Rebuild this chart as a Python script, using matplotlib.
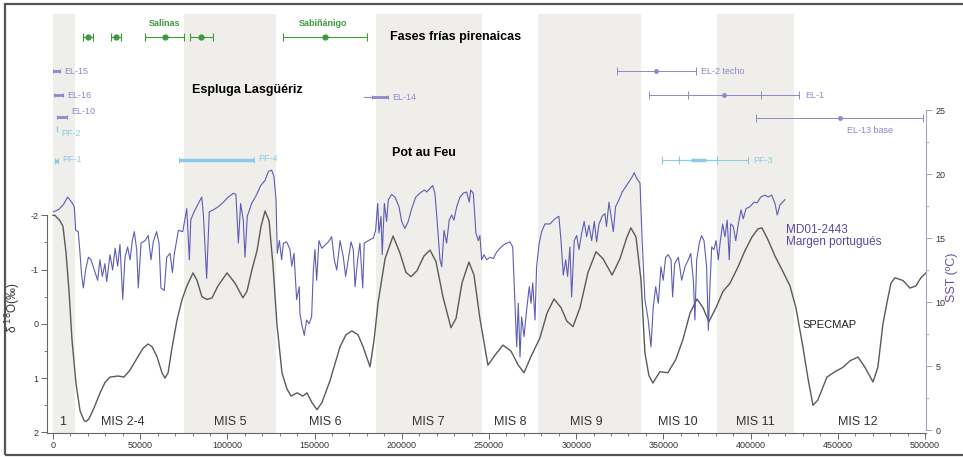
import numpy as np
import matplotlib
matplotlib.use("Agg")
import matplotlib.pyplot as plt
from matplotlib.patches import Rectangle

plt.rcParams['font.family'] = ['Liberation Sans', 'DejaVu Sans']

# SPECMAP (edad en años, d18O normalizado)
spec_age = [0, 1100, 4000, 5700, 7500, 9200, 10900, 13200, 15500, 17800, 18900, 20600, 23500,
            27000, 29800, 32700, 37300, 40700, 44200, 48200, 51600, 54500, 56800, 59600, 62500,
            64200, 66000, 68200, 71100, 74000, 76800, 80300, 82600, 85400, 88300, 91200, 94600,
            99800, 104400, 108900, 111200, 114100, 117000, 119300, 121600, 123900, 126100, 128400,
            131300, 134200, 136500, 140000, 143300, 145600, 148500, 151400, 154200, 158800, 164600,
            168000, 171400, 174900, 177800, 181800, 184100, 186400, 190400, 195000, 199000, 202400,
            205300, 208700, 212700, 216200, 219600, 223600, 228200, 231100, 234500, 238500, 241400,
            244800, 249400, 252900, 258000, 262600, 266600, 270100, 274100, 279200, 283300, 287300,
            291300, 294700, 298200, 302200, 306800, 311400, 315400, 320600, 325100, 329100, 331400,
            334300, 337200, 339400, 341700, 344000, 348000, 352600, 357200, 361200, 365300, 369300,
            372700, 376100, 380200, 384200, 388200, 392800, 396800, 400800, 404200, 406500, 410000,
            414000, 418000, 422600, 426000, 430000, 432900, 435800, 438600, 443800, 448400, 453000,
            457000, 461600, 465600, 470200, 473000, 475900, 478200, 480500, 482800, 487400, 491400,
            494800, 497700, 500600]
spec_d18o = [-2.0, -2.0, -1.9, -1.8, -1.3, -0.6, 0.3, 1.1, 1.6, 1.78, 1.8, 1.75, 1.55,
             1.27, 1.08, 0.98, 0.96, 0.98, 0.85, 0.63, 0.45, 0.37, 0.42, 0.6, 0.9,
             1.0, 0.9, 0.45, -0.07, -0.45, -0.7, -0.94, -0.8, -0.5, -0.45, -0.48, -0.7,
             -0.94, -0.75, -0.48, -0.6, -1.0, -1.35, -1.8, -2.08, -1.9, -1.1, 0.0,
             0.9, 1.2, 1.33, 1.27, 1.33, 1.27, 1.45, 1.58, 1.45, 1.05, 0.42,
             0.2, 0.13, 0.2, 0.42, 0.79, 0.3, -0.39, -1.2, -1.62, -1.3, -0.95,
             -0.87, -0.98, -1.25, -1.36, -1.15, -0.5, 0.07, -0.1, -0.75, -1.14, -0.9,
             -0.1, 0.76, 0.6, 0.39, 0.5, 0.75, 0.9, 0.6, 0.26, -0.2, -0.46,
             -0.3, -0.05, 0.05, -0.3, -0.95, -1.33, -1.2, -0.9, -1.2, -1.6, -1.77,
             -1.6, -0.8, 0.53, 0.95, 1.09, 0.88, 0.9, 0.65, 0.29, -0.2, -0.46,
             -0.3, -0.04, -0.3, -0.6, -0.75, -1.05, -1.35, -1.6, -1.75, -1.77, -1.55,
             -1.25, -1.0, -0.7, -0.3, 0.42, 1.0, 1.5, 1.4, 0.98, 0.88, 0.8,
             0.68, 0.61, 0.8, 1.07, 0.8, 0.0, -0.39, -0.75, -0.85, -0.8, -0.66,
             -0.7, -0.85, -0.94]

# MD01-2443 SST (ºC)
sst_age = [200, 3000, 5900, 8400, 10700, 12200, 13000, 14500, 15500, 16400, 17400, 18700, 20300,
           21800, 23700, 25600, 26900, 28300, 29800, 30800, 32700, 34200, 35600, 37100, 38400,
           40000, 41300, 42800, 44200, 45500, 46600, 48000, 48900, 50500, 52800, 54600, 56200,
           57500, 59400, 60800, 61900, 63800, 65200, 67100, 68500, 69500, 71900, 74400, 76700,
           78200, 79000, 80400, 82400, 85300, 86200, 88100, 89600, 91900, 94800, 97700, 100500,
           103400, 104900, 106300, 107600, 109100, 110100, 111400, 113900, 116800, 119100, 121600,
           123500, 125400, 126700, 127900, 128600, 129800, 131100, 132100, 134000, 135900, 136900,
           138200, 139700, 141200, 141600, 142900, 144100, 145400, 146800, 148300, 149300, 150200,
           151200, 152500, 154100, 156000, 157900, 159800, 161300, 162700, 164600, 166500, 167800,
           169300, 170900, 172200, 173200, 174700, 176000, 177600, 178500, 180800, 183700, 185000,
           186200, 186900, 188100, 188800, 190000, 191300, 192300, 194200, 196100, 198400, 199900,
           201800, 203700, 205700, 208000, 210400, 212900, 214300, 217700, 219000, 220400, 221900,
           222900, 224200, 225700, 227200, 228600, 229900, 231500, 233400, 235300, 237200, 238700,
           239500, 241000, 242500, 243900, 244800, 245800, 247100, 248700, 250600, 252500, 254400,
           256300, 258200, 260100, 262000, 263600, 264500, 265900, 266800, 267800, 268700, 270100,
           271600, 273100, 274100, 275100, 276400, 277300, 278800, 280200, 282100, 285000, 287800,
           290100, 291300, 292600, 294000, 295100, 296400, 297400, 298900, 300300, 301600, 303200,
           304600, 306000, 307300, 308900, 310400, 311700, 313100, 314900, 316500, 317400, 318800,
           320000, 321300, 322600, 324600, 326400, 328400, 330300, 332200, 333300, 334700, 336600,
           337900, 339400, 341300, 342900, 344200, 345600, 347100, 348600, 349900, 351300, 352800,
           354400, 355300, 356500, 358600, 360500, 362400, 364300, 365700, 367200, 368100, 369100,
           370600, 371900, 373300, 374800, 375800, 376700, 377700, 379000, 380200, 381500, 382500,
           384000, 385300, 386600, 387800, 388600, 390100, 391500, 393000, 394500, 395800, 397400,
           399700, 402000, 403800, 405800, 408300, 410100, 412100, 414000, 415300, 416900, 418400,
           419700]
sst_val = [17.05, 17.2, 17.6, 18.2, 17.8, 17.45, 15.6, 15.5, 13.8, 12.1, 11.1, 12.5, 13.5,
           13.3, 12.5, 11.7, 13.3, 12.0, 13.0, 11.6, 13.7, 12.5, 14.2, 12.8, 14.5,
           10.2, 13.5, 14.3, 13.3, 14.8, 15.5, 14.1, 11.1, 14.6, 14.8, 15.2, 13.3,
           14.7, 15.5, 14.6, 11.1, 10.9, 13.5, 13.8, 12.3, 13.7, 15.6, 15.5, 17.3,
           13.3, 16.4, 16.9, 17.45, 18.2, 16.9, 11.85, 17.05, 17.2, 17.45, 17.8, 18.2,
           18.5, 18.4, 14.6, 17.7, 16.4, 13.5, 16.7, 17.7, 18.4, 19.1, 19.5,
           20.2, 20.3, 19.8, 18.0, 13.8, 14.8, 13.3, 14.6, 14.7, 14.1, 12.8,
           13.8, 10.2, 11.2, 9.1, 8.1, 7.4, 8.6, 8.3, 8.85, 12.5, 14.1,
           11.7, 14.8, 14.2, 14.45, 14.7, 15.1, 13.3, 12.5, 14.8, 13.5, 12.0,
           13.3, 14.7, 14.1, 11.2, 13.3, 14.6, 11.1, 14.6, 14.8, 15.0, 15.6,
           17.7, 15.4, 16.7, 13.7, 17.7, 16.3, 18.0, 18.4, 18.2, 17.45, 16.3,
           15.75, 16.3, 17.3, 18.2, 18.5, 18.75, 18.6, 19.1, 18.5, 16.1, 13.3,
           12.75, 15.6, 14.6, 16.4, 16.8, 16.4, 17.45, 18.2, 18.5, 18.6, 17.8,
           18.75, 18.5, 15.4, 14.8, 15.2, 13.3, 13.7, 13.3, 13.5, 13.4, 13.9,
           14.2, 14.45, 14.6, 14.7, 14.3, 11.2, 6.5, 9.9, 5.7, 8.85, 7.3,
           9.4, 11.2, 9.9, 11.5, 8.6, 12.75, 14.6, 15.5, 16.1, 16.1, 16.5,
           16.7, 14.8, 12.1, 13.3, 12.0, 14.3, 10.4, 14.8, 15.2, 14.1, 15.4,
           16.3, 15.1, 16.0, 14.8, 16.3, 14.7, 16.1, 16.7, 16.9, 15.9, 17.8,
           16.7, 15.5, 17.45, 18.0, 18.6, 19.0, 19.4, 19.8, 20.1, 19.65, 19.3,
           14.6, 10.2, 8.6, 6.5, 9.6, 11.2, 9.9, 12.75, 11.7, 13.5, 13.7,
           13.3, 10.4, 13.0, 13.5, 11.7, 12.75, 13.3, 13.8, 11.7, 8.6, 13.3,
           14.6, 15.2, 14.8, 12.75, 7.8, 11.2, 14.3, 14.1, 14.8, 13.3, 14.6,
           16.1, 15.1, 16.4, 13.3, 16.1, 15.9, 14.8, 16.1, 17.2, 16.5, 17.3,
           17.45, 17.8, 17.75, 18.2, 18.35, 18.2, 18.35, 17.7, 16.8, 17.6, 17.8,
           18.0]

# Estadios isotópicos marinos
mis_labels = ['1', 'MIS 2-4', 'MIS 5', 'MIS 6', 'MIS 7', 'MIS 8', 'MIS 9', 'MIS 10', 'MIS 11', 'MIS 12']
mis_label_age = [5700, 40000, 101500, 156000, 215000, 262000, 306000, 358000, 402500, 461600]
warm_start = [0, 75000, 185000, 278000, 381000]
warm_end = [12600, 128000, 246000, 337000, 425000]

# Fases frías pirenaicas (edad, error)
fria_age = [20000, 36000, 64000, 85000, 156000]
fria_err = [3000, 3000, 11000, 6500, 24000]

# Dataciones Espluga Lasgüériz
el_names = ['EL-15', 'EL-16', 'EL-10', 'EL-14']
el_age = [2000, 3200, 5200, 187500]
el_err = [1800, 2600, 2900, 4500]
el_dot_names = ['EL-2 techo', 'EL-1', 'EL-13 base']
el_dot_age = [346000, 385000, 451000]
el_dot_err = [22500, 21000, 48000]
el_dot_err2 = [22500, 43000, 48000]

# Dataciones Pot au Feu
pf_names = ['PF-2', 'PF-1', 'PF-4', 'PF-3']
pf_age = [2300, 2000, 94000, 370000]
pf_err = [0, 1000, 21500, 4200]
pf3_err_lo, pf3_err_hi, pf3_mid = 21000, 28500, 11000

# filas (px desde arriba)
row_fria = 37
el_rows = [71, 95, 117, 97]
el_dot_rows = [71, 95, 118]
pf_rows = [131, 161, 160, 160]

green = '#3c9a3c'
lav = '#8f88c9'
sky = '#8ccbe8'

fig = plt.figure(figsize=(9.63, 4.57), dpi=100)
W, H = 963, 457
x0, x1, ytop, ybot = 47, 926, 14, 433
ax = fig.add_axes([x0 / W, 1 - ybot / H, (x1 - x0) / W, (ybot - ytop) / H])
# marco (el lado derecho queda fuera de la imagen)
fig.patches.append(Rectangle((5 / W, 2 / H), 965 / W, 451 / H, transform=fig.transFigure,
                             fill=False, ec='#555555', lw=1.6))

ax.set_xlim(-3440, 500600)
ax.set_ylim(2.01, -5.71)
for s, e in zip(warm_start, warm_end):
    ax.axvspan(s, e, color='#f0eeeb', lw=0, zorder=0)
ax.plot(spec_age, spec_d18o, color='#5a5a5a', lw=1.0, zorder=3)

ax.spines['top'].set_visible(False)
ax.spines['right'].set_visible(False)
ax.spines['left'].set_bounds(-2, 2)
for sp in ['left', 'bottom']:
    ax.spines[sp].set_color('#666666')
    ax.spines[sp].set_linewidth(0.8)
ax.set_yticks([-2, -1, 0, 1, 2])
ax.set_yticklabels(['-2', '-1', '0', '1', '2'])
ax.set_yticks(np.arange(-2, 2.01, 0.5), minor=True)
ax.set_xticks(np.arange(0, 500001, 50000))
ax.set_xticks(np.arange(0, 500001, 10000), minor=True)
ax.tick_params(which='major', length=4, width=0.7, color='#666666', labelsize=6.5,
               labelcolor='#333333', pad=2)
ax.tick_params(which='minor', length=2.5, width=0.6, color='#666666')
ax.set_ylabel(r'δ $^{18}$O(‰)', fontsize=8.5, color='#333333')
ax.yaxis.set_label_coords(-0.027, 0.30)

ax2 = ax.twinx()
ax2.set_ylim(-0.23, 32.5)
ax2.plot(sst_age, sst_val, color='#5d5db6', lw=0.8, zorder=4)
for sp in ['top', 'left', 'bottom']:
    ax2.spines[sp].set_visible(False)
ax2.spines['right'].set_bounds(0, 25)
ax2.spines['right'].set_color('#a4a0d0')
ax2.set_yticks([0, 5, 10, 15, 20, 25])
ax2.set_yticks(np.arange(0, 25.1, 2.5), minor=True)
ax2.tick_params(which='major', length=4, width=0.7, color='#a4a0d0', labelsize=6.5,
                labelcolor='#333333', pad=3)
ax2.tick_params(which='minor', length=2.5, width=0.6, color='#a4a0d0')
ax2.set_ylabel('SST (ºC)', fontsize=9, color='#6a50a8')
ax2.yaxis.set_label_coords(1.023, 0.372)

# capa de anotaciones en px
ax3 = ax.twinx()
ax3.set_ylim(ybot, ytop)
ax3.axis('off')

ax3.errorbar(fria_age, [row_fria] * len(fria_age), xerr=fria_err, fmt='o', ms=3.5,
             color=green, ecolor=green, elinewidth=0.8, capsize=3, capthick=0.8)
ax3.text(64000, 23, 'Salinas', color=green, fontsize=6.5, fontweight='bold', ha='center', va='center')
ax3.text(155000, 23, 'Sabiñánigo', color=green, fontsize=6.5, fontweight='bold', ha='center', va='center')

for name, a, e, r in zip(el_names, el_age, el_err, el_rows):
    if name == 'EL-14':
        ax3.plot([a - 9000, a + 4500], [r, r], color=lav, lw=0.8)
    ax3.errorbar(a, r, xerr=e, fmt='none', ecolor=lav, elinewidth=2, capsize=1.5, capthick=0.8)
    ax3.annotate(name, (a + e, r), xytext=(3, 1 if name == 'EL-10' else 0), textcoords='offset points',
                 color=lav, fontsize=6.5, va='center' if name != 'EL-10' else 'bottom')

for name, a, e, e2, r in zip(el_dot_names, el_dot_age, el_dot_err, el_dot_err2, el_dot_rows):
    ax3.errorbar(a, r, xerr=e2, fmt='o', ms=2.5, color=lav, ecolor=lav, elinewidth=0.7,
                 capsize=3, capthick=0.7)
    if e != e2:
        ax3.errorbar(a, r, xerr=e, fmt='none', ecolor=lav, elinewidth=0.7, capsize=3, capthick=0.7)
    if name == 'EL-13 base':
        ax3.annotate(name, (a, r), xytext=(22, -9), textcoords='offset points',
                     color=lav, fontsize=6.5, ha='center', va='center')
    else:
        ax3.annotate(name, (a + e2, r), xytext=(4, 0), textcoords='offset points',
                     color=lav, fontsize=6.5, va='center')

for name, a, e, r in zip(pf_names, pf_age, pf_err, pf_rows):
    if name == 'PF-2':
        ax3.plot(a, r - 2, marker='|', ms=5, color=sky, mew=0.9)
        ax3.annotate(name, (a, r), xytext=(3, -2), textcoords='offset points',
                     color=sky, fontsize=6.5, va='center')
        continue
    if name == 'PF-3':
        ax3.errorbar(a, r, xerr=[[pf3_err_lo], [pf3_err_hi]], fmt='none', ecolor=sky,
                     elinewidth=0.8, capsize=3, capthick=0.8)
        ax3.errorbar(a, r, xerr=pf3_mid, fmt='none', ecolor=sky, elinewidth=0.8,
                     capsize=3, capthick=0.8)
        ax3.errorbar(a, r, xerr=e, fmt='none', ecolor=sky, elinewidth=2.5)
        ax3.annotate(name, (a + pf3_err_hi, r), xytext=(4, 0), textcoords='offset points',
                     color=sky, fontsize=6.5, va='center')
        continue
    ax3.errorbar(a, r, xerr=e, fmt='none', ecolor=sky, elinewidth=2.5, capsize=2, capthick=0.8)
    ax3.annotate(name, (a + e, r), xytext=(3, 1), textcoords='offset points',
                 color=sky, fontsize=6.5, va='center')

ax3.text(193200, 37, 'Fases frías pirenaicas', fontsize=9, fontweight='bold', va='center')
ax3.text(79700, 90, 'Espluga Lasgüériz', fontsize=9, fontweight='bold', va='center')
ax3.text(194400, 153, 'Pot au Feu', fontsize=9, fontweight='bold', va='center')

for lab, a in zip(mis_labels, mis_label_age):
    ax3.text(a, 422, lab, fontsize=9, ha='center', va='center', color='#333333')

ax3.text(420300, 230, 'MD01-2443', fontsize=8.5, color='#5a48a0', va='center')
ax3.text(420300, 242, 'Margen portugués', fontsize=8.5, color='#5a48a0', va='center')
ax3.text(430000, 325, 'SPECMAP', fontsize=8, color='#222222', va='center')

fig.savefig('out.png', dpi=100)
